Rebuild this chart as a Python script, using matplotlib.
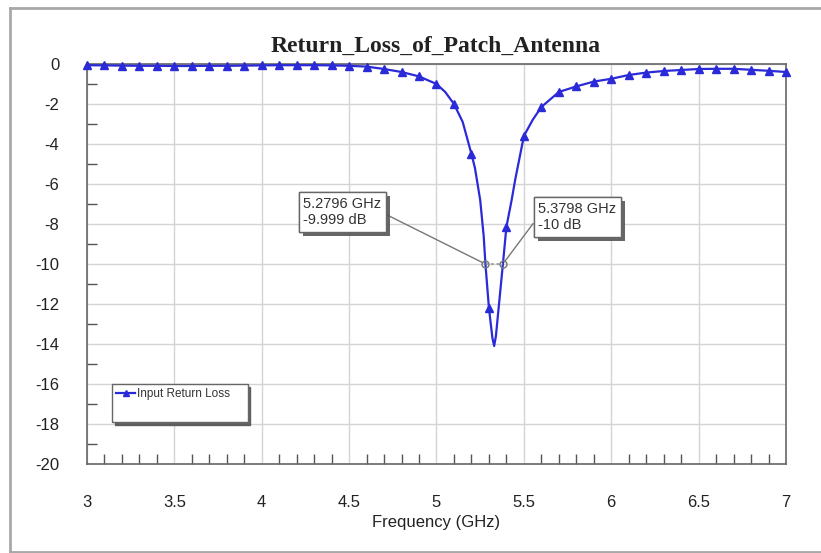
import matplotlib
matplotlib.use("Agg")
import matplotlib.pyplot as plt
import matplotlib.patheffects as pe
from matplotlib.lines import Line2D
import numpy as np

plt.rcParams['font.family'] = ['Liberation Sans', 'DejaVu Sans']
plt.rcParams['axes.unicode_minus'] = False

# ---- data ----
freq = [3.0, 3.1, 3.2, 3.3, 3.4, 3.5, 3.6, 3.7, 3.8, 3.9,
        4.0, 4.1, 4.2, 4.3, 4.4, 4.5, 4.6, 4.7, 4.8, 4.9,
        5.0, 5.05, 5.1, 5.15, 5.2, 5.22, 5.25, 5.27, 5.28, 5.3, 5.32, 5.33, 5.34, 5.36, 5.38, 5.4,
        5.43, 5.45, 5.5, 5.55,
        5.6, 5.7, 5.8, 5.9, 6.0, 6.1, 6.2, 6.3, 6.4, 6.5, 6.6, 6.7, 6.8, 6.9, 7.0]
s11 = [-0.06, -0.07, -0.08, -0.09, -0.09, -0.1, -0.1, -0.09, -0.09, -0.08,
       -0.07, -0.06, -0.06, -0.06, -0.07, -0.09, -0.13, -0.25, -0.4, -0.62,
       -1.0, -1.4, -2.0, -2.9, -4.5, -5.2, -6.8, -8.6, -10.0, -12.2, -13.7, -14.1, -13.6, -11.8, -10.0, -8.15,
       -6.8, -5.8, -3.6, -2.8,
       -2.15, -1.4, -1.12, -0.88, -0.74, -0.55, -0.43, -0.35, -0.3, -0.25, -0.24, -0.24, -0.29, -0.34, -0.4]
marker_freqs = [3.0, 3.1, 3.2, 3.3, 3.4, 3.5, 3.6, 3.7, 3.8, 3.9,
                4.0, 4.1, 4.2, 4.3, 4.4, 4.5, 4.6, 4.7, 4.8, 4.9,
                5.0, 5.1, 5.2, 5.3, 5.4, 5.5,
                5.6, 5.7, 5.8, 5.9, 6.0, 6.1, 6.2, 6.3, 6.4, 6.5, 6.6, 6.7, 6.8, 6.9, 7.0]
mark_freq = [5.2796, 5.3798]
mark_db = [-9.999, -10.0]
mark_labels = ["5.2796 GHz\n-9.999 dB", "5.3798 GHz\n-10 dB"]
xticks = [3, 3.5, 4, 4.5, 5, 5.5, 6, 6.5, 7]
xticklabels = ["3", "3.5", "4", "4.5", "5", "5.5", "6", "6.5", "7"]
yticks = [0, -2, -4, -6, -8, -10, -12, -14, -16, -18, -20]
series_name = "Input Return Loss"
title = "Return_Loss_of_Patch_Antenna"

W, H = 821, 553
fig = plt.figure(figsize=(W / 100, H / 100), dpi=100)
fig.patch.set_facecolor('white')

ax = fig.add_axes([87 / W, 1 - 464 / H, (786 - 87) / W, (464 - 64) / H])

blue = '#2a2ad8'
idx = [i for i, f in enumerate(freq) if any(abs(f - m) < 1e-9 for m in marker_freqs)]
ax.plot(freq, s11, color=blue, lw=1.6, marker='^', markersize=5.5,
        markevery=idx, markerfacecolor=blue, markeredgecolor=blue,
        label=series_name, zorder=3, clip_on=False)

# -10 dB markers with dotted connector
ax.plot(mark_freq, mark_db, color='#888888', lw=1, ls=(0, (2, 2)), zorder=4)
ax.plot(mark_freq, mark_db, ls='none', marker='o', markersize=5,
        markerfacecolor='none', markeredgecolor='#777777', zorder=4)

ax.set_xlim(3, 7)
ax.set_ylim(-20, 0)
ax.set_xticks(xticks)
ax.set_xticklabels(xticklabels)
ax.set_yticks(yticks)
ax.set_xticks(np.arange(3, 7.001, 0.1), minor=True)
ax.set_yticks(np.arange(-19, 0, 2), minor=True)
ax.tick_params(axis='both', which='major', length=0, labelsize=12, colors='#222222')
ax.tick_params(axis='x', which='major', pad=22)
ax.tick_params(axis='y', which='major', pad=20)
ax.tick_params(axis='both', which='minor', direction='in', length=7, width=1, color='#555555')
ax.grid(True, which='major', color='#d4d4d4', lw=1)
ax.set_axisbelow(True)
for s in ax.spines.values():
    s.set_color('#666666')
    s.set_linewidth(1.2)

ax.set_xlabel("Frequency (GHz)", fontsize=12, color='#222222', labelpad=4)

fig.text(436 / W, 1 - 52 / H, title, ha='center', va='baseline',
         fontsize=17, fontweight='bold', family=['Liberation Serif', 'DejaVu Serif'],
         color='#222222')

# annotations
shadow = [pe.withSimplePatchShadow(offset=(3, -3), shadow_rgbFace='#555555', alpha=0.9), pe.Normal()]
ann_pos = [(303, H - 212), (538, H - 217)]
relpos = [(1.0, 0.5), (0.0, 0.5)]
for f, d, lab, p, rp in zip(mark_freq, mark_db, mark_labels, ann_pos, relpos):
    t = ax.annotate(lab, xy=(f, d), xycoords='data', xytext=p, textcoords='figure pixels',
                    ha='left', va='center', fontsize=10.5, color='#333333', linespacing=1.25,
                    bbox=dict(boxstyle='square,pad=0.3', fc='white', ec='#666666', lw=1),
                    arrowprops=dict(arrowstyle='-', color='#777777', lw=1, relpos=rp,
                                    shrinkA=0, shrinkB=2), zorder=6)
    t.get_bbox_patch().set_path_effects(shadow)

# legend
h = Line2D([], [], color=blue, lw=1.6, marker='^', markersize=5, markerfacecolor=blue)
blank = Line2D([], [], color='none')
leg = ax.legend([h, blank], [series_name + "    ", " "], loc='upper left',
                bbox_to_anchor=(112 / W, 1 - 384 / H), bbox_transform=fig.transFigure,
                fontsize=8.5, frameon=True, fancybox=False, shadow={'color': '#555555', 'alpha': 0.9},
                edgecolor='#666666', handlelength=1.6, handletextpad=0.2,
                borderaxespad=0, borderpad=0.35, labelspacing=0.5)
leg.get_frame().set_linewidth(1)
for txt in leg.get_texts():
    txt.set_color('#333333')

# outer frame
fc = '#a8a8a8'
fig.add_artist(Line2D([10 / W, 1], [1 - 8 / H, 1 - 8 / H], color=fc, lw=2, transform=fig.transFigure))
fig.add_artist(Line2D([10 / W, 10 / W], [1 - 8 / H, 1 - 552 / H], color=fc, lw=2, transform=fig.transFigure))
fig.add_artist(Line2D([10 / W, 1], [1 - 552 / H, 1 - 552 / H], color=fc, lw=2, transform=fig.transFigure))

fig.savefig("out.png", dpi=100)
